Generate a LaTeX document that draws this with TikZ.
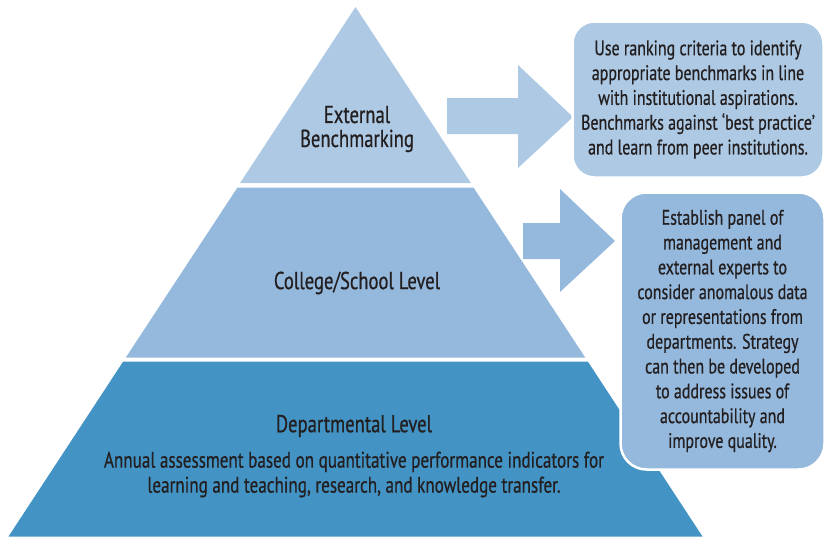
\documentclass[tikz,border=0pt]{standalone}
\usepackage{fontspec}
\setmainfont{PT Sans}[FakeStretch=0.76, FakeBold=0.6]
\usetikzlibrary{positioning}

\definecolor{tierTop}{RGB}{173,201,228}
\definecolor{tierMid}{RGB}{149,185,221}
\definecolor{tierBase}{RGB}{67,147,197}
\definecolor{inktext}{RGB}{35,31,32}

\tikzset{
  lbl/.style={text=inktext, align=center, inner sep=0pt,
              font=\fontsize{24.5}{24}\selectfont},
  sublbl/.style={text=inktext, align=center, inner sep=0pt,
              font=\fontsize{22.5}{25}\selectfont},
  notebox/.style={draw=white, line width=2.5pt, rounded corners=22pt,
                  text=inktext, align=center, inner sep=0pt,
                  font=\fontsize{21}{24.8}\selectfont}
}

\begin{document}
\begin{tikzpicture}[x=1pt,y=-1pt]
  \useasboundingbox (0,0) rectangle (825,536);

  % pyramid tiers: apex (355.5,7), sides with slope 0.656
  \fill[tierTop]  (355.5,7) -- (470.9,183) -- (240.1,183) -- cycle;
  \fill[tierMid]  (237.5,187.5) -- (473.5,187.5) -- (585.2,357.5) -- (125.8,357.5) -- cycle;
  \fill[tierBase] (123.2,361.5) -- (587.8,361.5) -- (702.5,536.5) -- (8.5,536.5) -- cycle;

  % tier labels
  \node[lbl] (ext) at (357,129) {External\\Benchmarking};
  \node[lbl] (col) at (357,283) {College/School Level};
  \node[lbl] (dep) at (354,426) {Departmental Level};
  \node[sublbl] (depnote) at (354,474.5) {Annual assessment based on quantitative performance indicators for\\learning and teaching, research, and knowledge transfer.};

  % block arrows
  \fill[tierTop] (447,98) -- (518,98) -- (518,65) -- (573,117) -- (518,168) -- (518,134) -- (447,134) -- cycle;
  \fill[tierMid] (523,223) -- (560,223) -- (560,189) -- (615,241) -- (560,292) -- (560,259) -- (523,259) -- cycle;

  % explanatory boxes
  \node[notebox, fill=tierTop, minimum width=251pt, minimum height=156pt] (boxA) at (698,99.5)
    {Use ranking criteria to identify\\appropriate benchmarks in line\\with institutional aspirations.\\Benchmarks against `best practice'\\and learn from peer institutions.};
  \node[notebox, fill=tierMid, minimum width=204pt, minimum height=277pt, rounded corners=26pt] (boxB) at (722.5,331)
    {Establish panel of\\management and\\external experts to\\consider anomalous data\\or representations from\\departments. Strategy\\can then be developed\\to address issues of\\accountability and\\improve quality.};
\end{tikzpicture}
\end{document}
